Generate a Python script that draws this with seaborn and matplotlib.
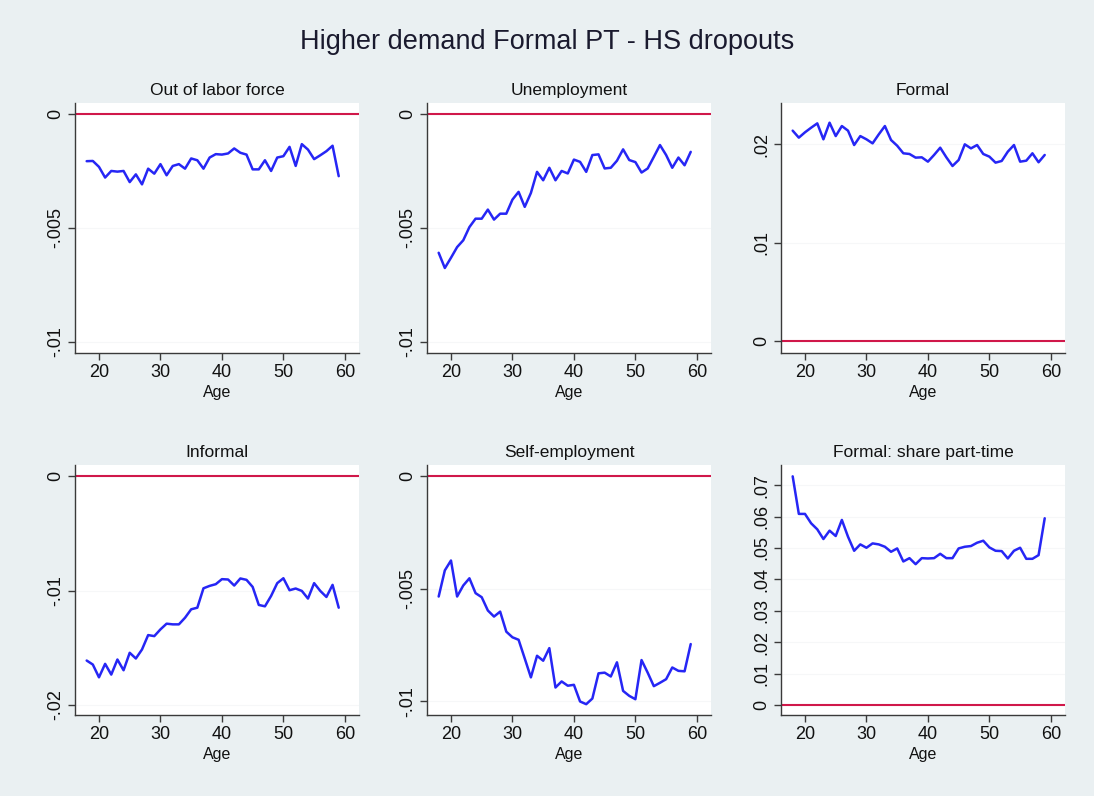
import numpy as np
import pandas as pd
import matplotlib
matplotlib.use("Agg")
import matplotlib.pyplot as plt
import seaborn as sns

# Estimated effects by age (ages 18-59)
ages = list(range(18, 60))

out_of_labor_force = [
    -0.00206, -0.00205, -0.00231, -0.00278, -0.00249, -0.00252, -0.00249, -0.00298,
    -0.00264, -0.00308, -0.00239, -0.00261, -0.00219, -0.00268, -0.00227, -0.00219,
    -0.00239, -0.00194, -0.00202, -0.00239, -0.00190, -0.00175, -0.00177, -0.00172,
    -0.00150, -0.00169, -0.00177, -0.00242, -0.00242, -0.00202, -0.00249, -0.00190,
    -0.00184, -0.00143, -0.00227, -0.00131, -0.00155, -0.00197, -0.00180, -0.00162,
    -0.00138, -0.00272,
]

unemployment = [
    -0.00609, -0.00676, -0.00631, -0.00584, -0.00554, -0.00496, -0.00459, -0.00459,
    -0.00419, -0.00463, -0.00437, -0.00437, -0.00375, -0.00341, -0.00407, -0.00346,
    -0.00253, -0.00290, -0.00235, -0.00290, -0.00249, -0.00260, -0.00199, -0.00209,
    -0.00253, -0.00179, -0.00176, -0.00238, -0.00235, -0.00204, -0.00154, -0.00201,
    -0.00210, -0.00256, -0.00238, -0.00187, -0.00135, -0.00179, -0.00235, -0.00190,
    -0.00224, -0.00165,
]

formal = [
    0.02139, 0.02068, 0.02122, 0.02169, 0.02213, 0.02051, 0.02220, 0.02084,
    0.02186, 0.02139, 0.01993, 0.02084, 0.02051, 0.02010, 0.02101, 0.02186,
    0.02044, 0.01986, 0.01909, 0.01902, 0.01865, 0.01868, 0.01824, 0.01892,
    0.01966, 0.01868, 0.01780, 0.01841, 0.02000, 0.01959, 0.01993, 0.01902,
    0.01875, 0.01814, 0.01831, 0.01926, 0.01993, 0.01824, 0.01834, 0.01909,
    0.01818, 0.01892,
]

informal = [
    -0.01613, -0.01648, -0.01760, -0.01642, -0.01736, -0.01604, -0.01698, -0.01545,
    -0.01595, -0.01516, -0.01390, -0.01399, -0.01340, -0.01290, -0.01296, -0.01296,
    -0.01238, -0.01164, -0.01150, -0.00980, -0.00959, -0.00944, -0.00900, -0.00903,
    -0.00956, -0.00894, -0.00906, -0.00968, -0.01126, -0.01138, -0.01047, -0.00935,
    -0.00892, -0.00997, -0.00982, -0.01003, -0.01070, -0.00935, -0.01003, -0.01056,
    -0.00950, -0.01150,
]

self_employment = [
    -0.00534, -0.00418, -0.00374, -0.00534, -0.00485, -0.00453, -0.00519, -0.00537,
    -0.00596, -0.00623, -0.00601, -0.00690, -0.00715, -0.00726, -0.00809, -0.00893,
    -0.00797, -0.00819, -0.00763, -0.00938, -0.00911, -0.00930, -0.00926, -0.01000,
    -0.01012, -0.00987, -0.00875, -0.00872, -0.00889, -0.00826, -0.00953, -0.00975,
    -0.00990, -0.00816, -0.00872, -0.00932, -0.00917, -0.00901, -0.00849, -0.00864,
    -0.00866, -0.00745,
]

formal_share_pt = [
    0.07279, 0.06083, 0.06083, 0.05784, 0.05592, 0.05283, 0.05550, 0.05379,
    0.05891, 0.05357, 0.04909, 0.05112, 0.05005, 0.05144, 0.05112, 0.05037,
    0.04877, 0.04984, 0.04568, 0.04674, 0.04482, 0.04674, 0.04664, 0.04674,
    0.04813, 0.04674, 0.04674, 0.04984, 0.05037, 0.05059, 0.05165, 0.05229,
    0.05016, 0.04909, 0.04899, 0.04664, 0.04909, 0.05005, 0.04653, 0.04653,
    0.04770, 0.05944,
]

panel_titles = ["Out of labor force", "Unemployment", "Formal",
                "Informal", "Self-employment", "Formal: share part-time"]
panel_series = [out_of_labor_force, unemployment, formal,
                informal, self_employment, formal_share_pt]
panel_yticks = [
    [0, -0.005, -0.01],
    [0, -0.005, -0.01],
    [0, 0.01, 0.02],
    [0, -0.01, -0.02],
    [0, -0.005, -0.01],
    [0, 0.01, 0.02, 0.03, 0.04, 0.05, 0.06, 0.07],
]
panel_yticklabels = [
    ["0", "-.005", "-.01"],
    ["0", "-.005", "-.01"],
    ["0", ".01", ".02"],
    ["0", "-.01", "-.02"],
    ["0", "-.005", "-.01"],
    ["0", ".01", ".02", ".03", ".04", ".05", ".06", ".07"],
]
panel_ylims = [
    (-0.0105, 0.0005),
    (-0.0105, 0.0005),
    (-0.0012, 0.0242),
    (-0.0209, 0.0010),
    (-0.0106, 0.0005),
    (-0.0032, 0.0764),
]
xticks = [20, 30, 40, 50, 60]
suptitle = "Higher demand Formal PT - HS dropouts"

sns.set_theme(style="ticks")
plt.rcParams["font.family"] = ["Liberation Sans", "DejaVu Sans"]

BG = "#EAF0F2"
LINE_BLUE = "#2626F5"
ZERO_RED = "#D0184A"
AXIS_GRAY = "#3a3a3a"

fig = plt.figure(figsize=(10.94, 7.96), dpi=100, facecolor=BG)

W, H = 1094, 796
col_left = [75, 427, 781]
ax_w = 284
row_top = [103, 465]
ax_h = 250

for i, (title, values) in enumerate(zip(panel_titles, panel_series)):
    r, c = divmod(i, 3)
    left = col_left[c] / W
    bottom = 1 - (row_top[r] + ax_h) / H
    ax = fig.add_axes([left, bottom, ax_w / W, ax_h / H])
    ax.set_facecolor("white")

    df = pd.DataFrame({"Age": ages, "value": values})
    for yt in panel_yticks[i]:
        ax.axhline(yt, color="#f6f7f8", lw=0.8, zorder=0)
    ax.axhline(0, color=ZERO_RED, lw=1.5, zorder=2)
    sns.lineplot(data=df, x="Age", y="value", ax=ax, color=LINE_BLUE,
                 lw=1.8, zorder=3)

    ax.set_xlim(16.1, 62.3)
    ax.set_ylim(*panel_ylims[i])
    ax.set_xticks(xticks)
    ax.set_xticklabels([str(t) for t in xticks])
    ax.set_yticks(panel_yticks[i])
    ax.set_yticklabels(panel_yticklabels[i])
    ax.set_xlabel("Age", fontsize=11.5, labelpad=3, color="#111111")
    ax.set_ylabel("")
    ax.set_title(title, fontsize=12.5, pad=6, color="#111111")

    for side in ("top", "right"):
        ax.spines[side].set_visible(False)
    for side in ("left", "bottom"):
        ax.spines[side].set_color(AXIS_GRAY)
        ax.spines[side].set_linewidth(1.0)
    ax.tick_params(axis="both", length=5, width=1.0, color=AXIS_GRAY,
                   labelsize=13, labelcolor="#111111", pad=3)
    ax.tick_params(axis="y", labelrotation=90)
    for lab in ax.get_yticklabels():
        lab.set_va("center")
        lab.set_ha("right")

fig.text(0.5, 1 - 42 / H, suptitle, ha="center", va="center",
         fontsize=19.5, color="#1a1a2e")

fig.savefig("out.png", dpi=100, facecolor=BG)
